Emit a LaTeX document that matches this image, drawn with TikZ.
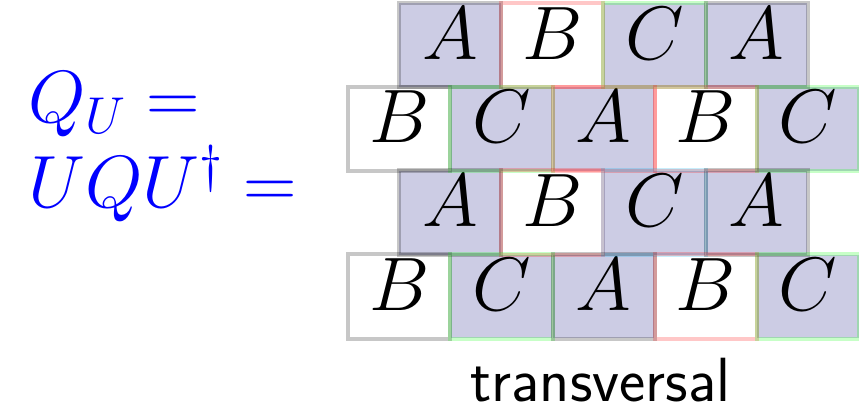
\RequirePackage{fix-cm}
\documentclass[tikz,border=0pt]{standalone}
\usepackage{amsmath,amssymb}
\usetikzlibrary{positioning}

\definecolor{cellfill}{RGB}{204,204,228}

\begin{document}
\begin{tikzpicture}[
		cell/.style={inner sep=0pt, minimum width=2cm, text height=1.1cm, text depth=0.55cm,
			font=\fontsize{42.5}{48}\selectfont},
		full/.style={cell, fill=cellfill},
		empty/.style={cell},
		rim/.style={line width=2.3pt, draw opacity=0.22},
		node distance=0pt
	]
	\useasboundingbox (0,0) rectangle (16.926,8.118);

	% left hand side
	\node[anchor=base west, text=blue, font=\fontsize{41.5}{48}\selectfont] (lhsa) at (0.43,5.70) {$Q_U =$};
	\node[anchor=base west, text=blue, font=\fontsize{41.5}{48}\selectfont] (lhsb) at (0.43,4.02) {$UQU^\dagger =$};

	% row 1
	\node[full, anchor=north west] (r1c1) at (7.86,8.06) {$A$};
	\node[empty] (r1c2) [right=of r1c1] {$B$};
	\node[full] (r1c3) [right=of r1c2] {$C$};
	\node[full] (r1c4) [right=of r1c3] {$A$};

	% row 2
	\node[empty, anchor=north west] (r2c1) at (6.86,6.41) {$B$};
	\node[full] (r2c2) [right=of r2c1] {$C$};
	\node[full] (r2c3) [right=of r2c2] {$A$};
	\node[empty] (r2c4) [right=of r2c3] {$B$};
	\node[full] (r2c5) [right=of r2c4] {$C$};

	% row 3
	\node[full, anchor=north west] (r3c1) at (7.86,4.76) {$A$};
	\node[empty] (r3c2) [right=of r3c1] {$B$};
	\node[full] (r3c3) [right=of r3c2] {$C$};
	\node[full] (r3c4) [right=of r3c3] {$A$};

	% row 4
	\node[empty, anchor=north west] (r4c1) at (6.86,3.11) {$B$};
	\node[full] (r4c2) [right=of r4c1] {$C$};
	\node[full] (r4c3) [right=of r4c2] {$A$};
	\node[empty] (r4c4) [right=of r4c3] {$B$};
	\node[full] (r4c5) [right=of r4c4] {$C$};

	% coloured rims
	\foreach \n/\c in {r1c1/black, r1c2/red, r1c3/green, r1c4/black,
			r2c1/black, r2c2/green, r2c3/red, r2c4/red, r2c5/green,
			r3c1/black, r3c2/red, r3c3/cyan, r3c4/black,
			r4c1/black, r4c2/green, r4c3/black, r4c4/red, r4c5/green} {
			\draw[rim, \c] (\n.south west) rectangle (\n.north east);
		}

	\node[anchor=base, font=\fontsize{35}{40}\selectfont\sffamily] (label) at (11.83,0.2) {transversal};

\end{tikzpicture}
\end{document}
